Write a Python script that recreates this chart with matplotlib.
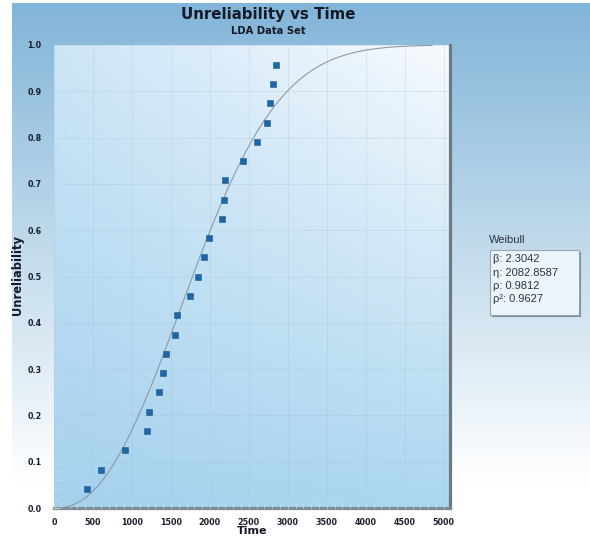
import numpy as np
import matplotlib.pyplot as plt
from matplotlib.patches import Rectangle
from matplotlib.ticker import MultipleLocator

# data
time = [419, 598, 906, 1192, 1218, 1342, 1397, 1432, 1547, 1573, 1744, 1850,
        1923, 1987, 2150, 2175, 2192, 2419, 2607, 2735, 2765, 2808, 2846]
unrel = [0.042, 0.083, 0.125, 0.166, 0.208, 0.250, 0.292, 0.333, 0.374, 0.416,
         0.458, 0.500, 0.542, 0.584, 0.625, 0.666, 0.708, 0.749, 0.791, 0.832,
         0.874, 0.916, 0.957]
beta = 2.3042
eta = 2082.8587
rho = 0.9812
rho2 = 0.9627
curve_end = 4850

W, H = 590, 536
fig = plt.figure(figsize=(W / 100, H / 100), dpi=100)
fig.patch.set_facecolor("white")

# figure background: blue on top fading to white
bg = fig.add_axes([12 / W, 0, 1 - 12 / W, (H - 3) / H], zorder=-10)
top = np.array([0.51, 0.71, 0.85])
bot = np.array([1.0, 1.0, 1.0])
t = np.clip(np.linspace(0, 1, 300) / 0.9, 0, 1)[:, None]
grad = top * (1 - t) + bot * t
bg.imshow(np.repeat(grad[:, None, :], 2, axis=1), aspect="auto",
          extent=[0, 1, 0, 1], origin="upper")
bg.set_axis_off()

x0, x1 = 54, 450
y0, y1 = 508, 45
ax = fig.add_axes([x0 / W, (H - y0) / H, (x1 - x0) / W, (y0 - y1) / H])
ax.set_xlim(0, 5080)
ax.set_ylim(0, 1.0)

# plot area gradient (bilinear between corners)
tl = np.array([0.80, 0.90, 0.97])
tr = np.array([0.97, 0.98, 0.995])
bl = np.array([0.65, 0.82, 0.93])
br = np.array([0.67, 0.84, 0.94])
u = np.linspace(0, 1, 200)[None, :, None]
v = np.linspace(0, 1, 200)[:, None, None]
img = (tl * (1 - u) + tr * u) * (1 - v) + (bl * (1 - u) + br * u) * v
ax.imshow(img, aspect="auto", extent=[0, 5080, 0, 1.0], origin="upper", zorder=0)

ax.xaxis.set_major_locator(MultipleLocator(500))
ax.xaxis.set_minor_locator(MultipleLocator(100))
ax.yaxis.set_major_locator(MultipleLocator(0.1))
ax.yaxis.set_minor_locator(MultipleLocator(0.02))
ax.grid(True, which="major", color="#9fbbd0", lw=0.6, alpha=0.3)
ax.set_axisbelow(False)
ax.tick_params(which="both", direction="in", color="#c9dcea", length=4, width=0.6)
ax.tick_params(axis="x", which="major", pad=7)
ax.tick_params(axis="y", which="major", pad=9)
ax.set_xticks(range(0, 5001, 500))
ax.set_xticklabels([str(v) for v in range(0, 5001, 500)],
                   fontsize=5.8, fontweight="bold", color="#1a1f2e")
ax.set_yticks(np.round(np.arange(0, 1.01, 0.1), 1))
ax.set_yticklabels([f"{v:.1f}" for v in np.arange(0, 1.01, 0.1)],
                   fontsize=5.8, fontweight="bold", color="#1a1f2e")

for s in ["left", "top"]:
    ax.spines[s].set_visible(False)
ax.spines["bottom"].set_color("#7f8a93")
ax.spines["bottom"].set_linewidth(2.3)
ax.spines["right"].set_color("#6d7a84")
ax.spines["right"].set_linewidth(2.3)

tt = np.linspace(0, curve_end, 400)
ax.plot(tt, 1 - np.exp(-(tt / eta) ** beta), color="#8d9aa6", lw=0.8, zorder=3)
ax.plot(time, unrel, "s", ms=3.8, color="#1f66a4", mec="#1a5a92", mew=0.4,
        zorder=4, clip_on=False)

# titles and axis labels
fig.text(268 / W, 1 - 14 / H, "Unreliability vs Time", ha="center", va="center",
         fontsize=10.8, fontweight="bold", color="#161a28")
fig.text(268 / W, 1 - 31 / H, "LDA Data Set", ha="center", va="center",
         fontsize=7.2, fontweight="bold", color="#161a28")
fig.text(252 / W, 1 - 531 / H, "Time", ha="center", va="center",
         fontsize=8, fontweight="bold", color="#161a28")
fig.text(18 / W, 1 - 275 / H, "Unreliability", ha="center", va="center",
         rotation=90, fontsize=8.3, fontweight="bold", color="#161a28")

# fit result box
bx0, bx1, by0, by1 = 490, 579, 250, 315
fig.patches.append(Rectangle(((bx0 + 2) / W, 1 - (by1 + 2) / H), (bx1 - bx0) / W,
                             (by1 - by0) / H, transform=fig.transFigure,
                             facecolor="#7d8a95", edgecolor="none", zorder=1))
fig.patches.append(Rectangle((bx0 / W, 1 - by1 / H), (bx1 - bx0) / W,
                             (by1 - by0) / H, transform=fig.transFigure,
                             facecolor="#eef5fa", edgecolor="#9aa6b0", lw=0.8, zorder=2))
lfont = dict(fontsize=8, family="Liberation Sans", color="#2c3440", va="center")
fig.text(489 / W, 1 - 240 / H, "Weibull", **lfont)
rows = [f"β: {beta}", f"η: {eta}", f"ρ: {rho}", f"ρ²: {rho2}"]
for i, row in enumerate(rows):
    fig.text(493 / W, 1 - (259 + i * 13.5) / H, row, **lfont)

fig.savefig("out.png", dpi=100)
